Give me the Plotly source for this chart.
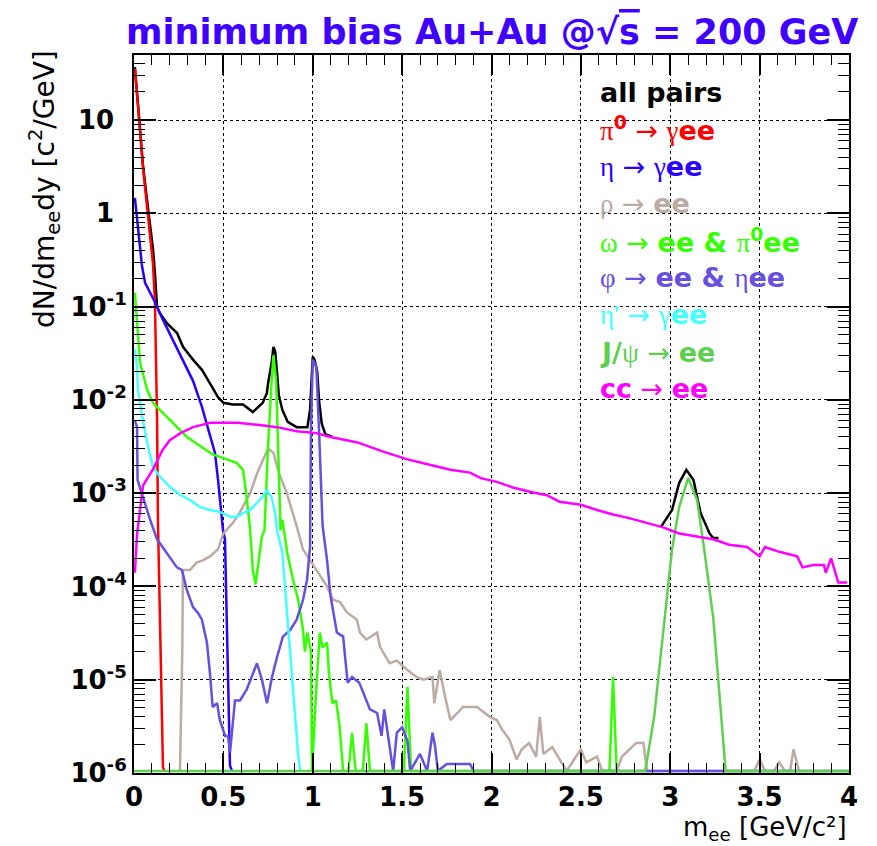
import plotly.graph_objects as go

FLOOR = 1.05e-6  # empty bins drawn at the axis minimum

# ---------------- data (m_ee in GeV/c^2, dN/dm_ee dy) ----------------
m_all = [0.005, 0.017, 0.034, 0.05, 0.078, 0.106, 0.117, 0.129, 0.145, 0.185, 0.241, 0.274, 0.33, 0.38,
         0.425, 0.47, 0.50, 0.553, 0.61, 0.665, 0.72, 0.743, 0.75, 0.77, 0.78, 0.79, 0.80, 0.81, 0.83,
         0.86, 0.91, 0.97, 0.985, 1.0, 1.01, 1.025, 1.035, 1.05, 1.07, 1.11, None,
         2.95, 3.01, 3.05, 3.09, 3.13, 3.17, 3.22, 3.24, 3.27]
y_all = [37, 20.5, 8.3, 3.3, 1.15, 0.42, 0.23, 0.099, 0.085, 0.066, 0.052, 0.037, 0.027, 0.021,
         0.015, 0.0107, 9.3e-3, 8.9e-3, 8.9e-3, 7.4e-3, 9.3e-3, 0.0118, 0.015, 0.025, 0.037, 0.033, 0.020, 0.0113, 7.8e-3,
         5.8e-3, 5.1e-3, 5.1e-3, 7.8e-3, 0.029, 0.027, 0.020, 0.010, 5.6e-3, 4.3e-3, 4.0e-3, None,
         4.4e-4, 6.6e-4, 1.29e-3, 1.78e-3, 1.38e-3, 6.1e-4, 3.7e-4, 3.3e-4, 3.3e-4]

m_pi0 = [0.005, 0.017, 0.034, 0.05, 0.078, 0.106, 0.117, 0.123, 0.129, 0.134, 0.145, 0.151, 0.162, 0.17]
y_pi0 = [35, 19.5, 7.8, 3.1, 1.0, 0.29, 0.117, 0.034, 6.3e-3, 5.1e-4, 5.6e-5, 1.0e-5, 1.15e-6, FLOOR]

m_eta = [0.005, 0.017, 0.034, 0.045, 0.062, 0.09, 0.117, 0.162, 0.218, 0.274, 0.33, 0.38, 0.425, 0.453,
         0.47, 0.487, 0.498, 0.509, 0.52, 0.537, 0.548]
y_eta = [1.46, 0.91, 0.48, 0.27, 0.18, 0.144, 0.112, 0.072, 0.044, 0.027, 0.016, 8.4e-3, 4.0e-3, 2.7e-3,
         1.4e-3, 6.1e-4, 4.0e-4, 3.2e-4, 3.7e-5, 1.2e-6, FLOOR]

m_rho = [0.257, 0.27, 0.274, 0.313, 0.35, 0.385, 0.425, 0.47, 0.50, 0.553, 0.59, 0.65, 0.69, 0.73, 0.75,
         0.78, 0.81, 0.855, 0.89, 0.917, 0.945, 0.985, 1.04, 1.08, 1.113, 1.153, 1.19, 1.247, 1.264, 1.30,
         1.36, 1.376, 1.43, 1.47, 1.53, 1.58, 1.62, 1.67, 1.68, 1.71, 1.74, 1.77, 1.81, 1.84, 1.92, 1.99,
         2.03, 2.06, 2.10, 2.14, 2.17, 2.21, 2.25, 2.27, 2.29, 2.34, 2.42, 2.50, 2.53, 2.59, 2.62, 2.70,
         2.73, 2.81, 2.85, 2.87, 3.47, 3.50, 3.53, 3.58, 3.61, 3.64, 3.67, 3.69, 3.72]
y_rho = [FLOOR, 1.95e-5, 1.5e-4, 1.5e-4, 1.8e-4, 1.9e-4, 2.1e-4, 2.5e-4, 3.7e-4, 4.8e-4, 6.1e-4, 1.0e-3, 1.66e-3, 2.45e-3, 3.0e-3,
         2.7e-3, 1.66e-3, 1.0e-3, 6.1e-4, 4.0e-4, 2.5e-4, 1.9e-4, 1.28e-4, 1.0e-4, 7.2e-5, 6.8e-5, 5.3e-5, 4.4e-5, 3.2e-5, 2.7e-5,
         3.2e-5, 2.25e-5, 1.5e-5, 1.6e-5, 1.27e-5, 1.07e-5, 1.0e-5, 1.07e-5, 5.6e-6, 1.27e-5, 6.6e-6, 3.7e-6, 4.4e-6, 5.1e-6, 5.1e-6, 4.0e-6,
         3.7e-6, 2.9e-6, 2.3e-6, 1.4e-6, 1.8e-6, 2.1e-6, 1.5e-6, 4.0e-6, 1.6e-6, 1.9e-6, FLOOR, 1.8e-6, 1.3e-6, 1.5e-6, FLOOR, FLOOR,
         1.5e-6, 2.1e-6, 2.1e-6, FLOOR, FLOOR, 1.4e-6, FLOOR, FLOOR, 1.3e-6, FLOOR, FLOOR, 1.8e-6, FLOOR]

m_omega = [0.005, 0.02, 0.034, 0.073, 0.106, 0.16, 0.218, 0.296, 0.37, 0.44, 0.52, 0.576, 0.61, 0.63, 0.65,
           0.665, 0.68, 0.69, 0.715, 0.73, 0.75, 0.77, 0.78, 0.795, 0.805, 0.82, 0.83, 0.857, 0.89, 0.918,
           0.93, 0.945, 0.956, 0.97, 0.99, 0.996, 1.02, 1.04, 1.055, 1.08, 1.09, 1.11, 1.13, 1.15, 1.17,
           1.20, 1.22, 1.24, 1.28, 1.30, 1.32, 1.51, 1.53, 1.55, 2.66, 2.68, 2.70]
y_omega = [0.14, 0.056, 0.025, 0.0129, 9.3e-3, 7.3e-3, 5.7e-3, 4.0e-3, 3.2e-3, 2.6e-3, 2.3e-3, 2.1e-3, 1.78e-3, 9.1e-4, 4.0e-4,
           1.5e-4, 1.05e-4, 1.5e-4, 3.4e-4, 4.0e-4, 3.2e-3, 0.016, 0.030, 0.016, 3.2e-3, 4.0e-4, 5.2e-4, 2.3e-4, 1.18e-4, 7.2e-5,
           5.3e-5, 3.5e-5, 2.0e-5, 3.2e-5, 2.0e-5, FLOOR, 8.4e-6, 3.2e-5, 2.2e-5, 2.5e-5, 1.2e-5, 5.6e-6, 6.0e-6, 3.2e-6, FLOOR,
           FLOOR, 2.7e-6, FLOOR, FLOOR, 3.4e-6, FLOOR, FLOOR, 8.4e-6, FLOOR, FLOOR, 1.07e-5, FLOOR]

m_phi = [0.005, 0.017, 0.02, 0.05, 0.078, 0.09, 0.129, 0.16, 0.2, 0.24, 0.268, 0.296, 0.33, 0.358, 0.38,
         0.408, 0.425, 0.44, 0.465, 0.48, 0.51, 0.526, 0.537, 0.565, 0.593, 0.63, 0.688, 0.716, 0.744, 0.772,
         0.80, 0.833, 0.873, 0.91, 0.946, 0.968, 0.985, 0.99, 1.0, 1.02, 1.035, 1.055, 1.08, 1.10, 1.135,
         1.17, 1.195, 1.22, 1.26, 1.32, 1.36, 1.385, 1.40, 1.42, 1.45, 1.47, 1.50, 1.53, 1.545, 1.60, 1.64,
         1.67, 1.685, 1.70, 1.75, 1.88, 1.90, 4.0]
y_phi = [6.0e-3, 5.1e-3, 1.38e-3, 9.1e-4, 6.1e-4, 5.2e-4, 3.2e-4, 2.65e-4, 2.1e-4, 1.6e-4, 1.5e-4, 9.1e-5, 6.0e-5, 5.2e-5, 4.4e-5,
         2.5e-5, 1.17e-5, 5.1e-6, 5.6e-6, 3.7e-6, 2.5e-6, 2.5e-6, 1.65e-6, 6.0e-6, 6.0e-6, 7.8e-6, 1.5e-5, 1.0e-5, 5.6e-6, 1.07e-5,
         1.74e-5, 2.9e-5, 3.4e-5, 4.4e-5, 7.2e-5, 1.18e-4, 2.65e-4, 4.8e-3, 0.027, 0.0225, 4.8e-3, 4.5e-4, 1.9e-4, 7.8e-5, 3.2e-5,
         2.9e-5, 9.3e-6, 1.07e-5, 9.3e-6, 4.8e-6, 4.4e-6, 2.5e-6, 4.8e-6, 2.5e-6, FLOOR, 2.7e-6, 3.1e-6, 2.2e-6, FLOOR, 1.6e-6, FLOOR,
         2.7e-6, 1.9e-6, FLOOR, 1.25e-6, 1.25e-6, FLOOR, FLOOR]

m_etap = [0.005, 0.017, 0.022, 0.05, 0.078, 0.106, 0.145, 0.2, 0.257, 0.31, 0.37, 0.425, 0.48, 0.537, 0.576,
          0.61, 0.65, 0.705, 0.745, 0.77, 0.79, 0.80, 0.83, 0.86, 0.89, 0.918, 0.93]
y_etap = [0.035, 0.022, 0.0129, 6.0e-3, 3.2e-3, 1.9e-3, 1.5e-3, 1.17e-3, 9.6e-4, 8.5e-4, 7.1e-4, 6.6e-4, 6.3e-4, 5.6e-4, 5.6e-4,
          6.1e-4, 6.6e-4, 8.5e-4, 1.07e-3, 9.0e-4, 6.1e-4, 4.0e-4, 2.3e-4, 4.4e-5, 8.4e-6, 1.6e-6, FLOOR]

m_jpsi = [0.0, 2.86, 2.91, 2.96, 3.01, 3.05, 3.10, 3.15, 3.19, 3.24, 3.27, 3.31, 4.0]
y_jpsi = [FLOOR, FLOOR, 4.0e-6, 3.2e-5, 2.5e-4, 7.1e-4, 1.45e-3, 8.5e-4, 2.5e-4, 4.7e-5, 9e-6, FLOOR, FLOOR]

m_cc = [0.005, 0.017, 0.05, 0.106, 0.16, 0.2, 0.26, 0.33, 0.43, 0.58, 0.69, 0.80, 0.91, 1.02, 1.10, 1.25,
        1.39, 1.53, 1.66, 1.77, 1.88, 1.94, 2.03, 2.12, 2.22, 2.31, 2.38, 2.50, 2.59, 2.68, 2.77, 2.87, 2.96,
        3.05, 3.15, 3.24, 3.33, 3.43, 3.50, 3.53, 3.61, 3.71, 3.74, 3.80, 3.86, 3.87, 3.90, 3.93, 3.94, 3.99]
y_cc = [1.4e-4, 3.6e-4, 1.2e-3, 1.8e-3, 2.9e-3, 3.7e-3, 4.4e-3, 5.1e-3, 5.7e-3, 5.7e-3, 5.4e-3, 5.1e-3, 4.6e-3, 4.4e-3, 4.0e-3, 3.5e-3,
        2.8e-3, 2.3e-3, 2.0e-3, 1.78e-3, 1.66e-3, 1.45e-3, 1.32e-3, 1.15e-3, 1.03e-3, 9.5e-4, 8.1e-4, 7.5e-4, 6.6e-4, 5.9e-4, 5.4e-4, 4.8e-4, 4.3e-4,
        3.7e-4, 3.4e-4, 3.2e-4, 2.8e-4, 2.65e-4, 2.1e-4, 2.65e-4, 2.35e-4, 2.1e-4, 1.6e-4, 1.7e-4, 1.7e-4, 1.4e-4, 2.0e-4, 1.27e-4, 1.1e-4, 1.1e-4]

# y tick labels
NB = "\u00a0"
y_tickvals = [1e-6, 1e-5, 1e-4, 1e-3, 1e-2, 1e-1, 1, 10]
y_ticktext = ["10<sup>-6</sup>", "10<sup>-5</sup>", "10<sup>-4</sup>", "10<sup>-3</sup>",
              "10<sup>-2</sup>", "10<sup>-1</sup>", "1<sup>" + NB * 2 + "</sup>", "10<sup>" + NB * 2 + "</sup>"]

# ---------------- styles ----------------
C_ALL, C_PI0, C_ETA, C_RHO = "#000000", "#ff0000", "#2a00ff", "#bcaaa4"
C_OMEGA, C_PHI, C_ETAP, C_JPSI, C_CC = "#33ff00", "#6650dd", "#44ffff", "#5fcf50", "#ff00ff"

series = [
    (m_all, y_all, C_ALL),
    (m_pi0, y_pi0, C_PI0),
    (m_eta, y_eta, C_ETA),
    (m_rho, y_rho, C_RHO),
    (m_omega, y_omega, C_OMEGA),
    (m_phi, y_phi, C_PHI),
    (m_etap, y_etap, C_ETAP),
    (m_jpsi, y_jpsi, C_JPSI),
    (m_cc, y_cc, C_CC),
]

fig = go.Figure()
for mx, yy, col in series:
    assert len(mx) == len(yy)
    fig.add_trace(go.Scatter(x=mx, y=yy, mode="lines", line=dict(color=col, width=2.5),
                             showlegend=False, hoverinfo="skip", connectgaps=False))

W, H = 877, 846
L, R, T, B = 134, 28, 55, 73
PW, PH = W - L - R, H - T - B


def px_x(p):
    return (p - L) / PW


def px_y(p):
    return (H - B - p) / PH


GR = "font-family:'Liberation Serif';font-weight:normal"
AR = "font-family:'DejaVu Sans';font-weight:normal"


def g(s):
    return f"<span style=\"{GR}\">{s}</span>"


ARROW = f"<span style=\"{AR}\"> \u2192 </span>"

legend_labels = [
    "<b>all pairs</b>",
    g("π") + "<b><sup>0</sup></b>" + ARROW + g("γ") + "<b>ee</b>",
    g("η") + ARROW + g("γ") + "<b>ee</b>",
    g("ρ") + ARROW + "<b>ee</b>",
    g("ω") + ARROW + "<b>ee &amp; </b>" + g("π") + "<b><sup>0</sup>ee</b>",
    g("φ") + ARROW + "<b>ee &amp; </b>" + g("η") + "<b>ee</b>",
    g("η'") + ARROW + g("γ") + "<b>ee</b>",
    "<b>J/</b>" + g("ψ") + ARROW + "<b>ee</b>",
    "<b>cc</b>" + ARROW + "<b>ee</b>",
]
legend_colors = [C_ALL, C_PI0, C_ETA, C_RHO, C_OMEGA, C_PHI, C_ETAP, C_JPSI, C_CC]
legend_py = [92, 128, 166, 203, 240, 277, 314, 352, 388]

annotations = []
for lab, col, py in zip(legend_labels, legend_colors, legend_py):
    annotations.append(dict(text=lab, x=px_x(598), y=px_y(py), xref="paper", yref="paper",
                            xanchor="left", yanchor="middle", showarrow=False,
                            font=dict(family="DejaVu Sans", size=27, color=col)))

# title
annotations.append(dict(
    text="<b>minimum bias Au+Au @√<span style=\"text-decoration:overline\">s</span> = 200 GeV</b>",
    x=0.5, y=px_y(32), xref="paper", yref="paper", xanchor="center", yanchor="middle",
    showarrow=False, font=dict(family="DejaVu Sans", size=35, color="#4000ff")))
# y title
annotations.append(dict(
    text="dN/dm<sub>ee</sub>dy [c<sup>2</sup>/GeV]", textangle=-90,
    x=px_x(45), y=px_y(48), xref="paper", yref="paper", xanchor="center", yanchor="top",
    showarrow=False, font=dict(family="DejaVu Sans", size=28, color="black")))
# x title
annotations.append(dict(
    text="m<sub>ee</sub> [GeV/c\u00b2]",
    x=px_x(849), y=px_y(828), xref="paper", yref="paper", xanchor="right", yanchor="middle",
    showarrow=False, font=dict(family="DejaVu Sans", size=26, color="black")))

y_minor = [k * 10.0 ** e for e in range(-6, 2) for k in range(2, 10)]

fig.update_layout(
    width=W, height=H,
    margin=dict(l=L, r=R, t=T, b=B, pad=0),
    paper_bgcolor="white", plot_bgcolor="white",
    font=dict(family="DejaVu Sans", color="black"),
    annotations=annotations,
    xaxis=dict(range=[0, 4], tick0=0, dtick=0.5, ticks="inside", ticklen=20, tickwidth=1.5,
               tickcolor="black", showline=True, linecolor="black", linewidth=2, mirror="ticks",
               showgrid=True, gridcolor="black", griddash="dot", gridwidth=1, zeroline=False,
               tickfont=dict(family="DejaVu Sans", size=26, color="black", weight="bold"),
               minor=dict(dtick=0.1, tick0=0, ticks="inside", ticklen=10, tickcolor="black",
                          tickwidth=1.2, showgrid=False)),
    yaxis=dict(type="log", range=[-6, 1.697], tickmode="array", tickvals=y_tickvals,
               ticktext=y_ticktext, ticks="inside", ticklen=22, tickwidth=1.5, tickcolor="black",
               showline=True, linecolor="black", linewidth=2, mirror="ticks",
               showgrid=True, gridcolor="black", griddash="dot", gridwidth=1, zeroline=False,
               tickfont=dict(family="DejaVu Sans", size=26, color="black", weight="bold"),
               minor=dict(tickmode="array", tickvals=y_minor, ticks="inside", ticklen=11,
                          tickcolor="black", tickwidth=1.2, showgrid=False)),
)

fig.write_html("out.html")
